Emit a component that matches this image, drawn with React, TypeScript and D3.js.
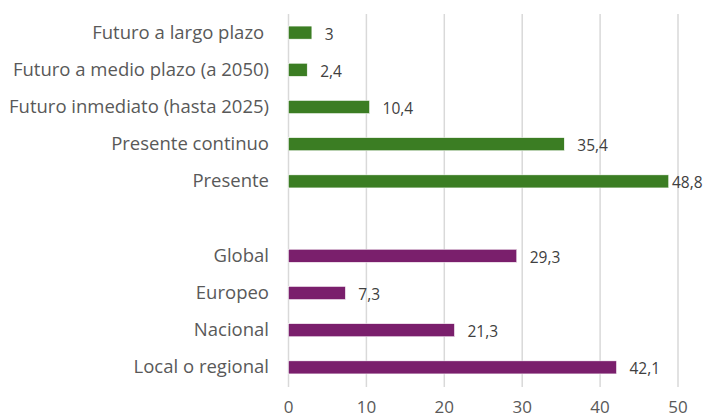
import React from "react";
import * as d3 from "d3";

const categories = [
  "Futuro a largo plazo ",
  "Futuro a medio plazo (a 2050)",
  "Futuro inmediato (hasta 2025)",
  "Presente continuo",
  "Presente",
  "",
  "Global",
  "Europeo",
  "Nacional",
  "Local o regional",
];
const values: (number | null)[] = [3, 2.4, 10.4, 35.4, 48.8, null, 29.3, 7.3, 21.3, 42.1];
const groups = ["time", "time", "time", "time", "time", "none", "scale", "scale", "scale", "scale"];
const ticks = [0, 10, 20, 30, 40, 50];
const colors: Record<string, string> = { time: "#3B7D23", scale: "#7A1F6C", none: "none" };

const W = 708;
const H = 417;
const FONT = "'Open Sans', 'Noto Sans', sans-serif";

export default function App() {
  const x = d3.scaleLinear().domain([0, 50]).range([288.5, 678]);
  const y = d3
    .scaleBand<number>()
    .domain(categories.map((_, i) => i))
    .range([14, 386])
    .paddingInner(0.65)
    .paddingOuter(0.325);
  const fmt = (v: number) => String(v).replace(".", ",");
  return (
    <svg width={W} height={H} style={{ position: "absolute", left: 0, top: 0, background: "#fff" }}>
      {ticks.map((t) => (
        <line key={"g" + t} x1={x(t)} x2={x(t)} y1={14} y2={387} stroke="#d9d9d9" strokeWidth={1.5} />
      ))}
      {ticks.map((t) => (
        <text key={"t" + t} x={x(t)} y={413} textAnchor="middle" fontFamily={FONT} fontSize={17} fill="#595959">
          {t}
        </text>
      ))}
      {categories.map((c, i) => (
        <text
          key={"c" + i}
          x={269}
          y={(y(i) ?? 0) + y.bandwidth() / 2 + 6}
          textAnchor="end"
          fontFamily={FONT}
          fontSize={18.5}
          fill="#595959"
          style={{ whiteSpace: "pre" }}
        >
          {c}
        </text>
      ))}
      {values.map((v, i) =>
        v == null ? null : (
          <g key={"b" + i}>
            <rect
              x={x(0)}
              y={y(i)}
              width={x(v) - x(0)}
              height={y.bandwidth()}
              fill={colors[groups[i]]}
              stroke="#ffffff"
              strokeWidth={0.5}
            />
            <text
              x={Math.min(x(v) + 13, W - 36)}
              y={(y(i) ?? 0) + y.bandwidth() / 2 + 7}
              fontFamily={FONT}
              fontSize={15.5}
              fill="#404040"
            >
              {fmt(v)}
            </text>
          </g>
        )
      )}
    </svg>
  );
}
